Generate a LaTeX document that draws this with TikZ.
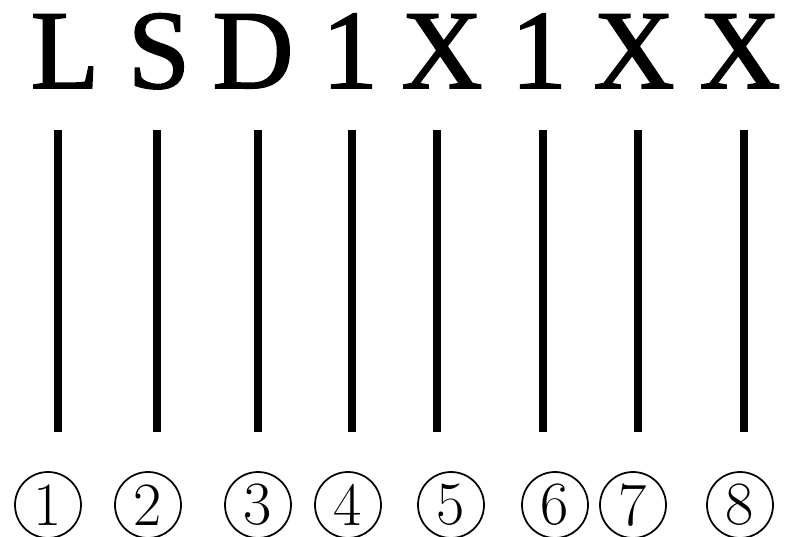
\documentclass[tikz,border=0pt]{standalone}
\usepackage{fontspec}
\newfontfamily\codefont[FakeBold=1.5]{Liberation Serif}
\usetikzlibrary{positioning}

\begin{document}
\begin{tikzpicture}[x=0.02cm, y=-0.02cm,
    letter/.style={font=\codefont\fontsize{64}{64}\selectfont, anchor=base, inner sep=0pt},
    pin/.style={line width=4pt},
    num/.style={draw, circle, line width=1pt, minimum size=1.32cm, inner sep=0pt,
      font=\fontsize{35}{35}\selectfont}]
  \useasboundingbox (0,0) rectangle (785,537);
  \def\ytop{130}
  \def\ybot{432}

  % code letters
  \foreach \i/\ch/\x in {1/L/65, 2/S/159, 3/D/253, 4/1/350, 5/X/442, 6/1/539, 7/X/634, 8/X/740}
    \node[letter] (c\i) at (\x,88) {\ch};

  % vertical bars
  \foreach \i/\x in {1/58, 2/157, 3/258, 4/352, 5/437, 6/543, 7/638, 8/744} {
    \coordinate (t\i) at (\x,\ytop);
    \coordinate (b\i) at (\x,\ybot);
    \draw[pin] (t\i) -- (b\i);
  }

  % circled positions
  \foreach \i/\x in {1/48, 2/148, 3/258, 4/348, 5/451, 6/555, 7/633, 8/740}
    \node[num] (n\i) at (\x,505) {\i};
\end{tikzpicture}
\end{document}
